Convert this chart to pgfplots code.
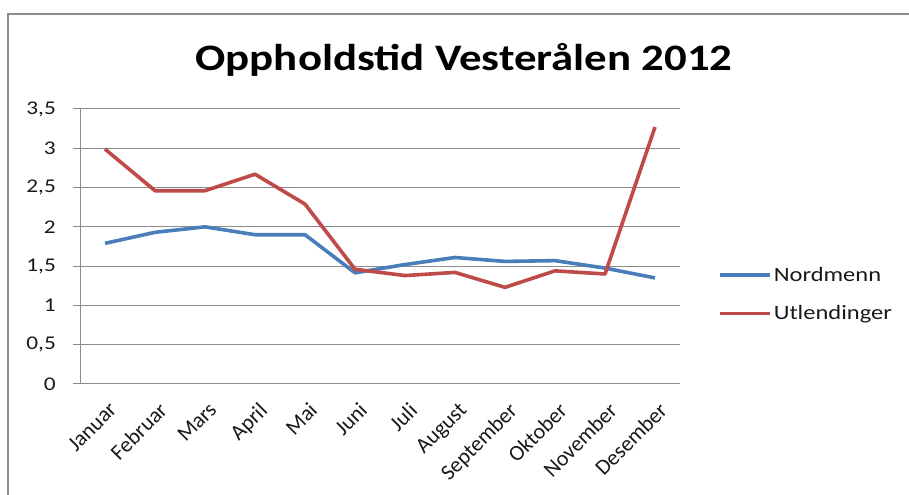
\documentclass[border=0pt]{standalone}
\usepackage{pgfplots}
\pgfplotsset{compat=1.18}
\usepackage{graphicx}
\usepackage{fontspec}
\setmainfont{Carlito}
\newcommand{\wide}[1]{\scalebox{1.2}[1]{#1}}
\definecolor{nblue}{HTML}{4A7EBB}
\definecolor{ured}{HTML}{BE4B48}
\definecolor{gridgray}{HTML}{8C8C8C}
\begin{document}
\begin{tikzpicture}[x=1bp,y=1bp]
\useasboundingbox (0,0) rectangle (909,495);
\draw[gridgray,line width=2bp] (8,0) -- (8,481) -- (909,481);
\node[anchor=base,font=\bfseries\fontsize{37.5}{42}\selectfont] at (464,424) {\wide{Oppholdstid Vesterålen 2012}};
\begin{axis}[
  at={(80bp,111bp)}, anchor=south west,
  scale only axis, width=600bp, height=275bp,
  xmin=-0.5, xmax=11.5, ymin=0, ymax=3.5,
  axis x line*=bottom, axis y line*=left,
  axis line style={gridgray,line width=1bp},
  ytick={0,0.5,...,3.5},
  yticklabel={\wide{\pgfmathprintnumber{\tick}}},
  ymajorgrids, grid style={gridgray,line width=1bp},
  xtick={0,...,11},
  xticklabels={Januar,Februar,Mars,April,Mai,Juni,Juli,August,September,Oktober,November,Desember},
  major x tick style={draw=none},
  extra x ticks={-0.5,0.5,...,11.5},
  extra x tick labels={},
  extra x tick style={grid=none, tick style={gridgray,line width=1bp}, major tick length=7bp},
  tick align=outside,
  major tick length=7bp,
  tick style={gridgray,line width=1bp},
  /pgf/number format/use comma,
  /pgf/number format/assume math mode=true,
  xticklabel style={font=\fontsize{22}{24}\selectfont, text=black!90, rotate=45, anchor=north east, inner sep=0bp, xshift=-5bp, yshift=-9bp},
  yticklabel style={font=\fontsize{19.5}{22}\selectfont, text=black!90, inner sep=0bp, xshift=-17bp},
  legend style={at={(1.0633,0.327)}, anchor=west, draw=none, fill=none, inner sep=0pt,
    font=\fontsize{20.5}{24}\selectfont, row sep=19bp,
    nodes={inner sep=2bp, text=black!90}},
  legend cell align=left,
  legend image code/.code={\draw[#1] (0bp,0bp) -- (50bp,0bp);},
]
\addplot[nblue, line width=3.6bp, line join=round] coordinates {
(0,1.79) (1,1.93) (2,2.0) (3,1.90) (4,1.90) (5,1.415) (6,1.52) (7,1.61) (8,1.56) (9,1.57) (10,1.475) (11,1.35)};
\addlegendentry{\wide{Nordmenn}}
\addplot[ured, line width=3.6bp, line join=round] coordinates {
(0,2.99) (1,2.46) (2,2.46) (3,2.67) (4,2.29) (5,1.46) (6,1.38) (7,1.42) (8,1.23) (9,1.44) (10,1.40) (11,3.27)};
\addlegendentry{\wide{Utlendinger}}
\end{axis}
\end{tikzpicture}
\end{document}
